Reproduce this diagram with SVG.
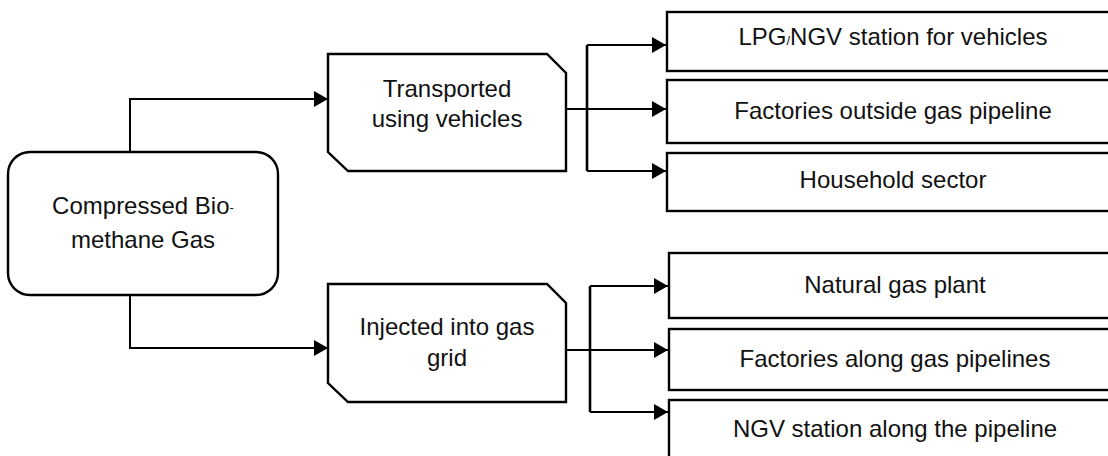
<svg xmlns="http://www.w3.org/2000/svg" width="1108" height="456" viewBox="0 0 1108 456">
<style>
.box{fill:#fff;stroke:#000;stroke-width:2.4}
.t{font-family:"Liberation Sans",Arial,sans-serif;font-size:24px;fill:#111;text-anchor:middle}
.sm{font-size:13px}
.c{fill:none;stroke:#000;stroke-width:2}
.bus{fill:none;stroke:#000;stroke-width:2.6}
</style>
<defs>
<marker id="ah" markerUnits="userSpaceOnUse" markerWidth="15" markerHeight="16" refX="14" refY="8" orient="auto">
<path d="M0,0 L14,8 L0,16 z" fill="#000"/>
</marker>
</defs>
<rect width="1108" height="456" fill="#fff"/>
<g id="connectors">
<path class="c" d="M130,152 V99 H328" marker-end="url(#ah)"/>
<path class="c" d="M130,295 V348 H328" marker-end="url(#ah)"/>
<path class="c" d="M566,109 H587"/>
<path class="bus" d="M587,45 V171"/>
<path class="c" d="M587,45 H666" marker-end="url(#ah)"/>
<path class="c" d="M587,109 H666" marker-end="url(#ah)"/>
<path class="c" d="M587,171 H666" marker-end="url(#ah)"/>
<path class="c" d="M566,350 H590"/>
<path class="bus" d="M590,286 V412"/>
<path class="c" d="M590,286 H668" marker-end="url(#ah)"/>
<path class="c" d="M590,350 H668" marker-end="url(#ah)"/>
<path class="c" d="M590,412 H668" marker-end="url(#ah)"/>
</g>
<g id="main">
<rect class="box" x="8" y="152" width="270" height="143" rx="22" ry="22"/>
<text class="t" x="143" y="214">Compressed Bio<tspan class="sm" dy="-2">-</tspan></text>
<text class="t" x="143" y="248">methane Gas</text>
</g>
<g id="transported">
<path class="box" d="M328,54 H547 L566,73 V171 H348 L328,152 Z"/>
<text class="t" x="447" y="97">Transported</text>
<text class="t" x="447" y="127">using vehicles</text>
</g>
<g id="injected">
<path class="box" d="M328,284 H547 L566,303 V402 H348 L328,383 Z"/>
<text class="t" x="447" y="335">Injected into gas</text>
<text class="t" x="447" y="366">grid</text>
</g>
<g id="lpg">
<rect class="box" x="667" y="12" width="460" height="59"/>
<text class="t" x="893" y="45">LPG<tspan class="sm">/</tspan>NGV station for vehicles</text>
</g>
<g id="factories-outside">
<rect class="box" x="667" y="80" width="460" height="63"/>
<text class="t" x="893" y="119">Factories outside gas pipeline</text>
</g>
<g id="household">
<rect class="box" x="667" y="153" width="460" height="58"/>
<text class="t" x="893" y="188">Household sector</text>
</g>
<g id="natural-gas">
<rect class="box" x="669" y="253" width="460" height="65"/>
<text class="t" x="895" y="293">Natural gas plant</text>
</g>
<g id="factories-along">
<rect class="box" x="669" y="329" width="460" height="61"/>
<text class="t" x="895" y="367">Factories along gas pipelines</text>
</g>
<g id="ngv">
<rect class="box" x="669" y="400" width="460" height="70"/>
<text class="t" x="895" y="437">NGV station along the pipeline</text>
</g>
</svg>
